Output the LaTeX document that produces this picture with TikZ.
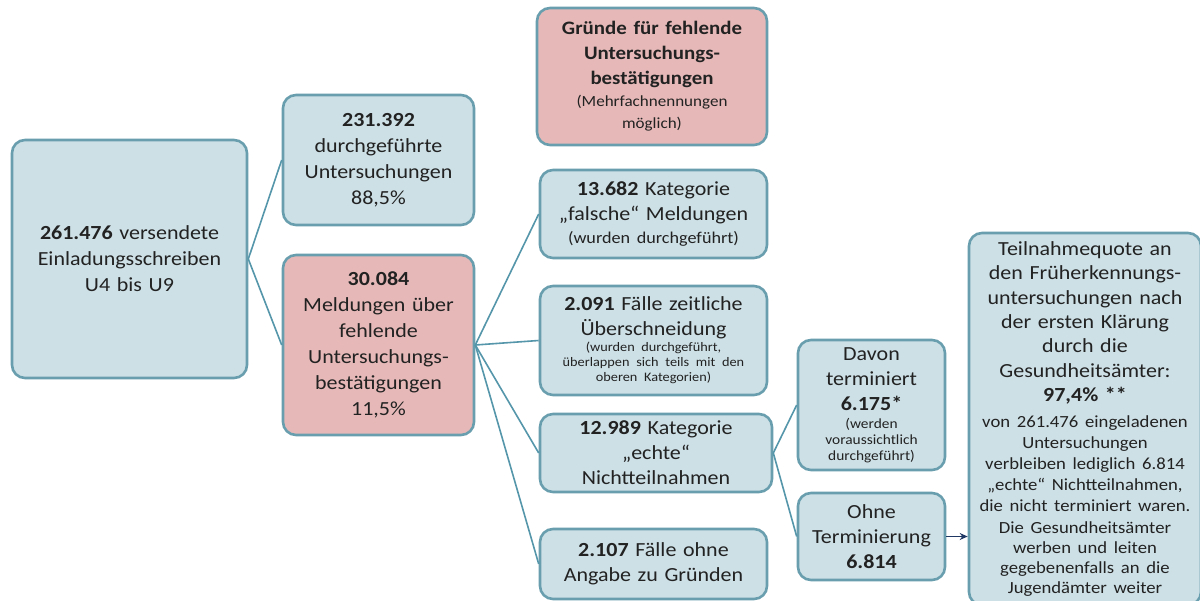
\documentclass[tikz,border=0pt]{standalone}
\usepackage{fontspec}
\setmainfont{Carlito}[FakeStretch=1.1]
\usetikzlibrary{arrows.meta,calc}
\definecolor{boxblue}{RGB}{205,224,230}
\definecolor{boxred}{RGB}{230,185,184}
\definecolor{boxborder}{RGB}{104,158,174}
\definecolor{linecol}{RGB}{85,150,170}
\definecolor{navy}{RGB}{31,56,100}
\definecolor{txt}{RGB}{34,34,34}
\tikzset{
  box/.style={draw=boxborder, line width=2.6pt, rounded corners=13pt, fill=boxblue,
    align=center, inner sep=2pt, text=txt, font=\fontsize{20}{26}\selectfont},
  redbox/.style={box, fill=boxred},
  conn/.style={draw=linecol, line width=1.6pt},
  arr/.style={draw=navy, line width=1.6pt, -{Stealth[length=8pt,width=7pt]}}
}
\begin{document}
\begin{tikzpicture}[x=1pt,y=-1pt]
\useasboundingbox[fill=white] (0,0) rectangle (1200,601);

\node[box, minimum width=235pt, minimum height=238pt, text width=227pt] (A) at (129.5,259)
  {\textbf{261.476} versendete\\Einladungsschreiben\\U4 bis U9};

\node[box, minimum width=191pt, minimum height=130pt, text width=185pt] (B) at (378.5,160)
  {\textbf{231.392}\\durchgeführte\\Untersuchungen\\88,5\%};

\node[redbox, minimum width=191pt, minimum height=180pt, text width=185pt] (C) at (378.5,345)
  {\textbf{30.084}\\Meldungen über\\fehlende\\Untersuchungs-\\bestätigungen\\11,5\%};

\node[redbox, minimum width=230pt, minimum height=137pt, text width=224pt] (D) at (652,76.5)
  {{\bfseries\fontsize{19}{25}\selectfont Gründe für fehlende\\Untersuchungs-\\bestätigungen\par}
   {\fontsize{15.5}{22}\selectfont (Mehrfachnennungen\\möglich)\par}};

\node[box, minimum width=227pt, minimum height=88pt, text width=223pt] (E) at (653.5,214)
  {{\fontsize{20}{25}\selectfont\textbf{13.682} Kategorie\\„falsche“ Meldungen\par}
   {\fontsize{16.5}{23}\selectfont (wurden durchgeführt)\par}};

\node[box, minimum width=227pt, minimum height=109pt, text width=223pt] (F) at (653.5,340.5)
  {{\fontsize{20}{25}\selectfont\textbf{2.091} Fälle zeitliche\\Überschneidung\par}
   \vspace{1pt}
   {\fontsize{13}{15}\selectfont (wurden durchgeführt,\\überlappen sich teils mit den\\oberen Kategorien)\par}};

\node[box, minimum width=232pt, minimum height=78pt, text width=226pt, font=\fontsize{20}{25}\selectfont] (G) at (656,453)
  {\textbf{12.989} Kategorie\\„echte“\\Nichtteilnahmen};

\node[box, minimum width=227pt, minimum height=70pt, text width=223pt, font=\fontsize{20}{25}\selectfont] (H) at (653.5,564)
  {\textbf{2.107} Fälle ohne\\Angabe zu Gründen};

\node[box, minimum width=147pt, minimum height=130pt, text width=143pt] (I) at (871.5,405)
  {{\fontsize{20}{25}\selectfont Davon\\terminiert\\\textbf{6.175*}\par}
   \vspace{2pt}
   {\fontsize{14}{16}\selectfont (werden\\voraussichtlich\\durchgeführt)\par}};

\node[box, minimum width=147pt, minimum height=87pt, text width=143pt, font=\fontsize{20}{25}\selectfont] (J) at (871.5,536.5)
  {Ohne\\Terminierung\\\textbf{6.814}};

\node[box, minimum width=230pt, minimum height=372pt, text width=228pt] (K) at (1085,419)
  {{\fontsize{20}{24.3}\selectfont Teilnahmequote an\\den Früherkennungs-\\untersuchungen nach\\der ersten Klärung\\durch die\\Gesundheitsämter:\\\textbf{97,4\% **}\par}
   \vspace{5pt}
   {\fontsize{17}{21}\selectfont von 261.476 eingeladenen\\Untersuchungen\\verbleiben lediglich 6.814\\„echte“ Nichtteilnahmen,\\die nicht terminiert waren.\par}
   \vspace{2pt}
   {\fontsize{17}{20}\selectfont Die Gesundheitsämter\\werben und leiten\\gegebenenfalls an die\\Jugendämter weiter\par}};

\draw[conn] (A.east) -- (B.west);
\draw[conn] (A.east) -- (C.west);
\draw[conn] (C.east) -- (E.west);
\draw[conn] (C.east) -- (F.west);
\draw[conn] (C.east) -- (G.west);
\draw[conn] (C.east) -- (H.west);
\draw[conn] (G.east) -- (I.west);
\draw[conn] (G.east) -- (J.west);
\draw[arr] (J.east) -- (J.east -| K.west);
\end{tikzpicture}
\end{document}
